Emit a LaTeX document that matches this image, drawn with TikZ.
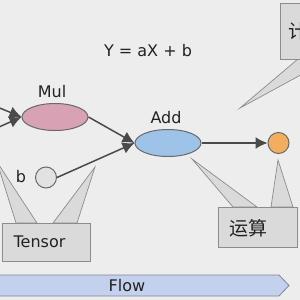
\documentclass[tikz,border=0pt]{standalone}
\usepackage{fontspec}
\setmainfont{DejaVu Sans}
\newfontfamily\cjk{Noto Sans CJK SC}
\usetikzlibrary{arrows.meta,positioning,shapes.geometric}
\definecolor{bgcol}{HTML}{EDEDEE}
\definecolor{opline}{HTML}{6A6A6A}
\definecolor{linkcol}{HTML}{4A4A4A}
\definecolor{mulcol}{HTML}{D8A2B4}
\definecolor{addcol}{HTML}{9DC3E8}
\definecolor{rescol}{HTML}{F2AE5E}
\definecolor{bcol}{HTML}{E2E2E2}
\definecolor{callfill}{HTML}{DADADA}
\definecolor{callline}{HTML}{8C8C8C}
\definecolor{flowfill}{HTML}{C3D0EE}
\definecolor{flowline}{HTML}{7D8796}
\definecolor{txtcol}{HTML}{222222}

\begin{document}
\begin{tikzpicture}[x=1pt,y=-1pt,
  op/.style={ellipse,draw=opline,line width=1pt,minimum width=66pt,minimum height=27pt,inner sep=0pt},
  dot/.style={circle,draw=opline,line width=1pt,minimum size=21pt,inner sep=0pt},
  link/.style={draw=linkcol,line width=1.5pt,-{Latex[length=12pt,width=12pt]}},
  callout/.style={fill=callfill,draw=callline,line width=0.7pt},
  txt/.style={font=\fontsize{16}{18}\selectfont,text=txtcol,inner sep=0pt}]
  \useasboundingbox (0,0) rectangle (300,300);
  \clip (0,0) rectangle (300,300);
  \fill[bgcol] (0,0) rectangle (300,300);

  % title
  \node[txt] (title) at (148,51) {Y = aX + b};

  % callouts
  \draw[callout] (240,108) -- (298,59) -- (330,59) -- cycle;
  \draw[callout] (280,3) rectangle (340,59);
  \node[txt,anchor=west,font=\cjk\fontsize{19}{20}\selectfont] (calc) at (288,31) {计};

  \draw[callout] (-3,162) -- (16,223) -- (37,223) -- cycle;
  \draw[callout] (95,167) -- (53,223) -- (77,223) -- cycle;
  \draw[callout] (2,223) rectangle (90,261);
  \node[txt] (tensor) at (39.5,242) {Tensor};

  \draw[callout] (192,159) -- (233,207) -- (257,207) -- cycle;
  \draw[callout] (278,160) -- (271,207) -- (293,207) -- cycle;
  \draw[callout] (218,207) rectangle (297,247);
  \node[txt,font=\cjk\fontsize{19}{20}\selectfont] (op) at (248,228) {运算};

  % graph
  \node[op,fill=mulcol] (mul) at (55,117) {};
  \node[txt] (mullbl) at (52,92) {Mul};
  \node[op,fill=addcol] (add) at (168,143) {};
  \node[txt] (addlbl) at (166,118) {Add};
  \node[dot,fill=bcol] (bin) at (46,177.5) {};
  \node[txt] (blbl) at (21,177) {b};
  \node[dot,fill=rescol] (res) at (278.5,143) {};

  \coordinate (xin) at (-10,104);
  \coordinate (ain) at (-10,131);
  \draw[link] (xin) -- (mul.west);
  \draw[link] (ain) -- (mul.west);
  \draw[link] (mul.east) -- (add.west);
  \draw[link] (bin.east) -- (add.west);
  \draw[link] (add.east) -- (res.west);

  % flow bar
  \draw[fill=flowfill,draw=flowline,line width=0.8pt]
    (-2,275) -- (279,275) -- (289,285.5) -- (279,296) -- (-2,296) -- cycle;
  \node[txt] (flow) at (127,286) {Flow};
\end{tikzpicture}
\end{document}
